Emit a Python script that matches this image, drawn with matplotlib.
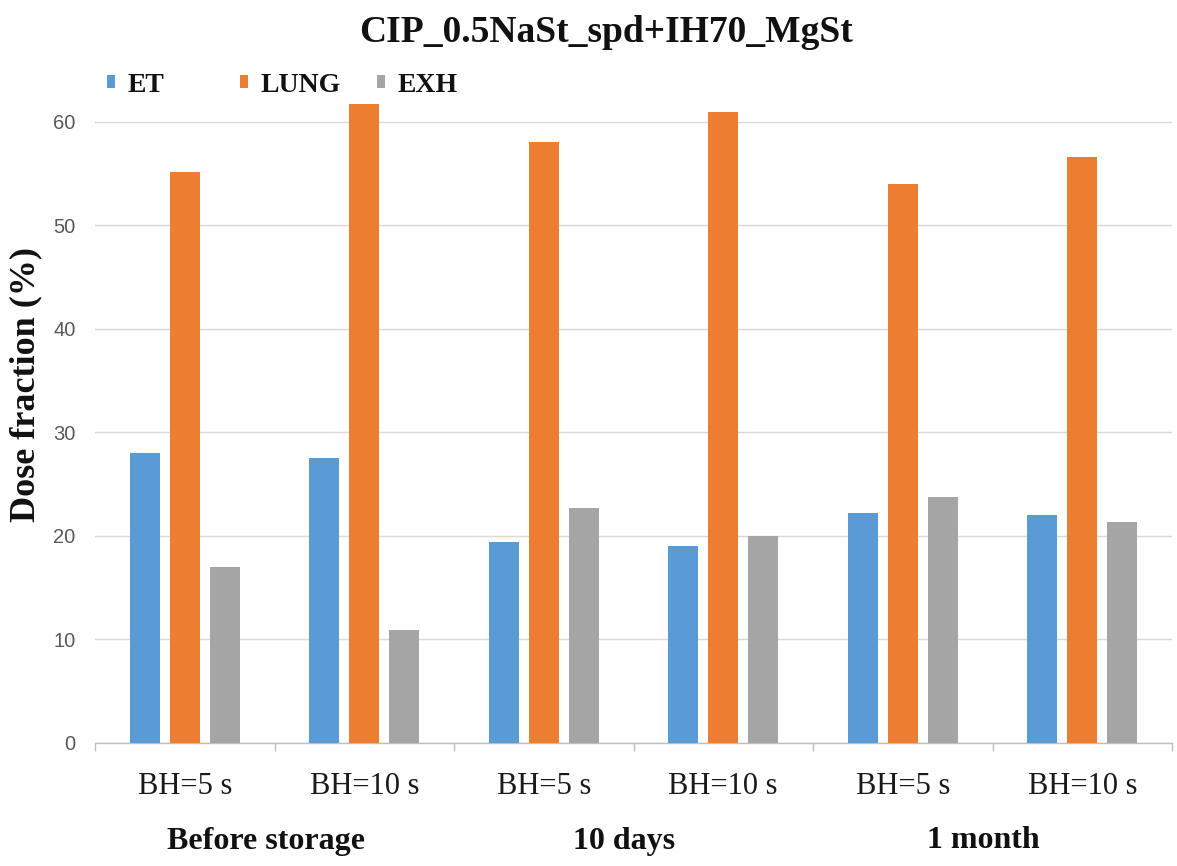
import matplotlib
matplotlib.use("Agg")
import matplotlib.pyplot as plt
import numpy as np
from matplotlib.patches import Patch
from matplotlib.transforms import blended_transform_factory

categories = ["BH=5 s", "BH=10 s", "BH=5 s", "BH=10 s", "BH=5 s", "BH=10 s"]
groups = ["Before storage", "10 days", "1 month"]
et = [28.0, 27.5, 19.4, 19.0, 22.2, 22.0]
lung = [55.1, 61.7, 58.0, 60.9, 54.0, 56.6]
exh = [17.0, 10.9, 22.7, 20.0, 23.8, 21.3]
series_names = ["ET", "LUNG", "EXH"]
colors = ["#5B9BD5", "#ED7D31", "#A5A5A5"]
yticks = [0, 10, 20, 30, 40, 50, 60]

W, H = 1177, 866
fig = plt.figure(figsize=(W / 100, H / 100), dpi=100)
ax = fig.add_axes([95 / W, 1 - 743 / H, (1172 - 95) / W, (743 - 101) / H])

x = np.arange(len(categories))
bw = 0.167
pitch = 0.223
for i, (vals, c, name) in enumerate(zip([et, lung, exh], colors, series_names)):
    ax.bar(x + (i - 1) * pitch, vals, width=bw, color=c, label=name, zorder=3)

ax.set_xlim(-0.5, len(categories) - 0.5)
ax.set_ylim(0, 62)
ax.set_yticks(yticks)
ax.set_yticklabels([str(v) for v in yticks], fontfamily="Liberation Sans",
                   fontsize=14.5, color="#595959")
ax.tick_params(axis="y", length=0, pad=14)
ax.grid(axis="y", color="#D9D9D9", linewidth=1.0, zorder=0)

# category labels (major, no tick marks) and boundaries (minor tick marks)
ax.set_xticks(x)
ax.set_xticklabels(categories, fontfamily="Liberation Serif", fontsize=22,
                   color="#1a1a1a")
ax.tick_params(axis="x", which="major", length=0, pad=21)
ax.set_xticks(np.arange(-0.5, len(categories), 1.0), minor=True)
ax.tick_params(axis="x", which="minor", length=6, color="#BFBFBF", width=1)

for s in ["top", "right", "left"]:
    ax.spines[s].set_visible(False)
ax.spines["bottom"].set_color("#BFBFBF")
ax.spines["bottom"].set_linewidth(1.0)

# group labels
trans = blended_transform_factory(ax.transData, ax.transAxes)
for gi, g in enumerate(groups):
    ax.text(2 * gi + 0.45, (743 - 841) / (743 - 101), g, transform=trans,
            ha="center", va="center", fontfamily="Liberation Serif",
            fontweight="bold", fontsize=23, color="#111111")

ax.set_ylabel("Dose fraction (%)", fontfamily="Liberation Serif",
              fontweight="bold", fontsize=26, color="#111111")
ax.yaxis.set_label_coords((42 - 95) / (1172 - 95), (743 - 385) / (743 - 101))

fig.text(606 / W, 1 - 33 / H, "CIP_0.5NaSt_spd+IH70_MgSt",
         fontfamily="Liberation Serif", fontweight="bold", fontsize=27,
         ha="center", va="center", color="#111111")

# legend entries
leg_x = [107, 240, 377]
for name, c, lx in zip(series_names, colors, leg_x):
    lg = fig.legend(handles=[Patch(facecolor=c, edgecolor="none")], labels=[name],
                    loc="center left", bbox_to_anchor=(lx / W, 1 - 85 / H),
                    frameon=False, handlelength=0.3, handleheight=0.3,
                    handletextpad=0.45, borderpad=0, borderaxespad=0,
                    prop={"family": "Liberation Serif", "weight": "bold", "size": 20})
    for t in lg.get_texts():
        t.set_color("#111111")

fig.savefig("out.png", dpi=100)
